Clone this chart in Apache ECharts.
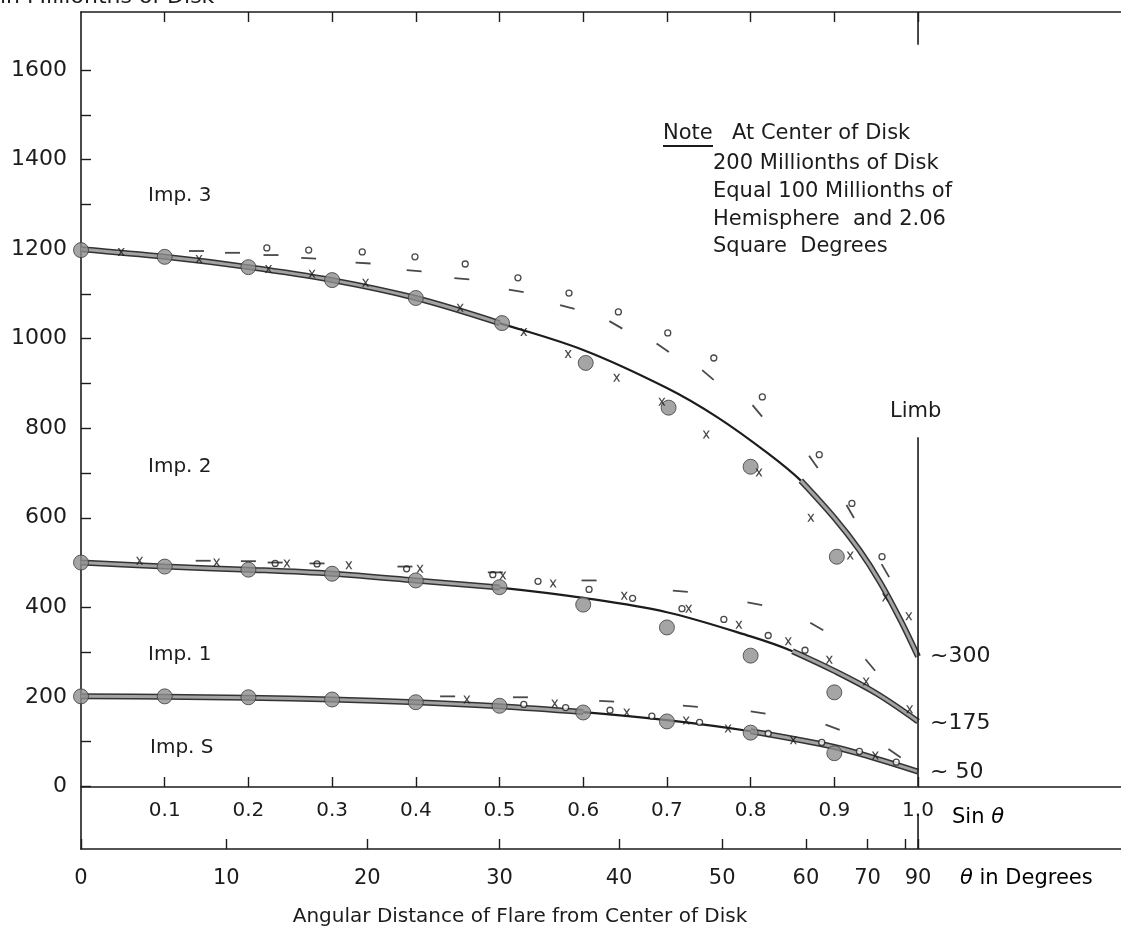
<!DOCTYPE html>
<html>
<head>
<meta charset="utf-8">
<script src="https://cdn.jsdelivr.net/npm/echarts@6/dist/echarts.min.js"></script>
<style>
  html, body { margin: 0; padding: 0; background: #fff; }
  #chart { width: 1121px; height: 928px; }
</style>
</head>
<body>
<div id="chart"></div>
<script>
// tick positions / labels
const sinTicks = [0.1, 0.2, 0.3, 0.4, 0.5, 0.6, 0.7, 0.8, 0.9, 1.0];
const thetaTicks = [0, 10, 20, 30, 40, 50, 60, 70, 80, 90];
const thetaLabels = [0, 10, 20, 30, 40, 50, 60, 70, 90];
const yTicks = [0, 100, 200, 300, 400, 500, 600, 700, 800, 900, 1000, 1100, 1200, 1300, 1400, 1500, 1600];
const yLabels = [0, 200, 400, 600, 800, 1000, 1200, 1400, 1600];

// fitted curves [sin theta, area]
const curveImp3 = [[0, 1200], [0.1, 1183], [0.2, 1160], [0.3, 1131], [0.4, 1091], [0.5, 1035], [0.6, 975], [0.7, 890], [0.76, 825], [0.82, 745], [0.86, 683], [0.9, 600], [0.93, 528], [0.955, 455], [0.98, 368], [1.0, 290]];
const curveImp2 = [[0, 500], [0.1, 491], [0.2, 484], [0.3, 475], [0.4, 460], [0.5, 444], [0.6, 421], [0.7, 389], [0.8, 335], [0.85, 302], [0.9, 258], [0.95, 208], [1.0, 145]];
const curveImpS = [[0, 201], [0.1, 200], [0.2, 198], [0.3, 194], [0.4, 188], [0.5, 179], [0.6, 166], [0.7, 148], [0.8, 123], [0.9, 88], [0.95, 62], [1.0, 33]];

// mean values (big grey dots)
const meanImp3 = [[0, 1198], [0.1, 1183], [0.2, 1160], [0.3, 1131], [0.4, 1091], [0.503, 1035], [0.603, 946], [0.702, 846], [0.8, 714], [0.903, 513]];
const meanImp2 = [[0, 500], [0.1, 491], [0.2, 484], [0.3, 475], [0.4, 460], [0.5, 445], [0.6, 406], [0.7, 355], [0.8, 292], [0.9, 210]];
const meanImpS = [[0, 201], [0.1, 201], [0.2, 199], [0.3, 194], [0.4, 188], [0.5, 180], [0.6, 165], [0.7, 145], [0.8, 120], [0.9, 74]];

// individual sets
const circlePts = [
  [0.222, 1203], [0.272, 1198], [0.336, 1194], [0.399, 1183], [0.459, 1167], [0.522, 1136], [0.583, 1102], [0.642, 1060], [0.701, 1013], [0.756, 957], [0.814, 870], [0.882, 741], [0.921, 632], [0.957, 513],
  [0.232, 498], [0.282, 497], [0.389, 486], [0.492, 473], [0.546, 458], [0.607, 440], [0.659, 420], [0.718, 397], [0.768, 373], [0.821, 337], [0.865, 304],
  [0.529, 183], [0.579, 176], [0.632, 170], [0.682, 157], [0.739, 143], [0.821, 118], [0.885, 98], [0.930, 78], [0.974, 54]
];
const crossPts = [
  [0.048, 1194], [0.141, 1178], [0.224, 1156], [0.276, 1145], [0.340, 1125], [0.453, 1069], [0.529, 1015], [0.582, 966], [0.640, 913], [0.694, 859], [0.747, 786], [0.810, 701], [0.872, 600], [0.919, 516], [0.961, 422], [0.989, 380],
  [0.070, 504], [0.162, 500], [0.246, 498], [0.320, 494], [0.405, 486], [0.504, 471], [0.564, 453], [0.649, 426], [0.726, 397], [0.786, 361], [0.845, 324], [0.894, 283], [0.938, 234], [0.990, 172],
  [0.461, 194], [0.566, 185], [0.652, 165], [0.723, 147], [0.773, 129], [0.851, 103], [0.949, 69]
];
const dashPts = [
  [0.138, 1196], [0.181, 1192], [0.227, 1187], [0.272, 1180], [0.337, 1169], [0.398, 1152], [0.455, 1134], [0.520, 1107], [0.581, 1071], [0.639, 1031], [0.695, 980], [0.749, 919], [0.808, 839], [0.875, 725], [0.919, 614], [0.961, 482],
  [0.146, 504], [0.2, 503], [0.232, 500], [0.282, 498], [0.387, 491], [0.495, 478], [0.607, 460], [0.716, 436], [0.805, 408], [0.879, 357], [0.943, 271],
  [0.438, 201], [0.525, 199], [0.628, 190], [0.728, 179], [0.809, 165], [0.898, 132], [0.972, 74]
];
// tilt of each dash (deg, matching dashPts)
const dashTilt = [0, 0, 0, -3, -3, -5, -5, -10, -15, -30, -35, -40, -50, -55, -60, -60,
  0, 0, 0, 0, 0, 0, 0, -5, -10, -30, -50,
  0, 0, -3, -5, -8, -20, -35];

const limbTop = 780;

const FONT = 'DejaVu Sans';
const INK = '#1c1c1c';
const xMax = 1.2425;
const SMOOTH = 0.35;
const crossPath = 'path://M0,0L2.2,0L5,3.6L7.8,0L10,0L6.2,5L10,10L7.8,10L5,6.4L2.2,10L0,10L3.8,5Z';

let chart = echarts.init(document.getElementById('chart'));

function curveSeries(data) {
  return {
    type: 'line', data: data, smooth: SMOOTH, showSymbol: false,
    lineStyle: { color: INK, width: 2.2 }, z: 2, silent: true
  };
}
// the inked double-stroke parts of the curves: dark edge + grey core
function bandSeries(data) {
  return [
    { type: 'line', data: data, smooth: SMOOTH, showSymbol: false, silent: true,
      lineStyle: { color: '#333', width: 6 }, z: 3 },
    { type: 'line', data: data, smooth: SMOOTH, showSymbol: false, silent: true,
      lineStyle: { color: '#a3a3a3', width: 3 }, z: 3 }
  ];
}
function meanSeries(data) {
  return {
    type: 'scatter', data: data, symbol: 'circle', symbolSize: 15,
    itemStyle: { color: '#8e8e8e', borderColor: '#3c3c3c', borderWidth: 1 }, z: 5
  };
}

const txt = (x, y, text, size, extra) => ({
  type: 'text', x: x, y: y,
  style: Object.assign({ text: text, font: (size || 20) + 'px "' + FONT + '"', fill: INK, verticalAlign: 'middle' }, extra || {})
});

const rich = {
  n: { fontFamily: FONT, fontSize: 21, color: INK },
  t: { fontFamily: FONT, fontSize: 21, fontStyle: 'italic', color: INK }
};

chart.setOption({
  animation: false,
  backgroundColor: '#fff',
  grid: { left: 81, right: 0, top: 12, bottom: 79 },
  xAxis: [
    {
      // sin theta scale, sits on the zero line
      type: 'value', min: 0, max: xMax, position: 'bottom', offset: -62,
      axisLine: { onZero: false, lineStyle: { color: INK, width: 1.6 } },
      axisTick: { inside: true, length: 10, customValues: sinTicks, lineStyle: { color: INK, width: 1.4 } },
      axisLabel: { customValues: sinTicks, formatter: v => v.toFixed(1), margin: 14, color: INK, fontFamily: FONT, fontSize: 20 },
      splitLine: { show: false }
    },
    {
      // theta in degrees
      type: 'value', min: 0, max: xMax, position: 'bottom',
      axisLine: { onZero: false, lineStyle: { color: INK, width: 1.6 } },
      axisTick: { inside: true, length: 10, customValues: thetaTicks.map(d => Math.sin(d * Math.PI / 180)), lineStyle: { color: INK, width: 1.4 } },
      axisLabel: {
        customValues: thetaLabels.map(d => Math.sin(d * Math.PI / 180)),
        formatter: v => String(Math.round(Math.asin(Math.min(1, v)) * 180 / Math.PI)),
        margin: 19, color: INK, fontFamily: FONT, fontSize: 21
      },
      splitLine: { show: false }
    },
    {
      type: 'value', min: 0, max: xMax, position: 'top',
      axisLine: { onZero: false, lineStyle: { color: INK, width: 1.6 } },
      axisTick: { inside: true, length: 10, customValues: sinTicks, lineStyle: { color: INK, width: 1.4 } },
      axisLabel: { show: false },
      splitLine: { show: false }
    }
  ],
  yAxis: {
    type: 'value', min: -140, max: 1730,
    axisLine: { show: true, onZero: false, lineStyle: { color: INK, width: 1.6 } },
    axisTick: { show: true, inside: true, length: 10, customValues: yTicks, lineStyle: { color: INK, width: 1.4 } },
    axisLabel: { customValues: yLabels, formatter: v => String(v), margin: 14, color: INK, fontFamily: FONT, fontSize: 22 },
    splitLine: { show: false }
  },
  series: [
    curveSeries(curveImp3),
    curveSeries(curveImp2),
    curveSeries(curveImpS),
    ...bandSeries(curveImp3.filter(p => p[0] <= 0.5)),
    ...bandSeries(curveImp3.filter(p => p[0] >= 0.86)),
    ...bandSeries(curveImp2.filter(p => p[0] <= 0.5)),
    ...bandSeries(curveImp2.filter(p => p[0] >= 0.85)),
    ...bandSeries(curveImpS.filter(p => p[0] <= 0.6)),
    ...bandSeries(curveImpS.filter(p => p[0] >= 0.8)),
    meanSeries(meanImp3),
    meanSeries(meanImp2),
    meanSeries(meanImpS),
    {
      type: 'scatter', data: circlePts, symbol: 'circle', symbolSize: 6,
      itemStyle: { color: '#fff', borderColor: INK, borderWidth: 1.3 }, z: 6
    },
    {
      type: 'scatter', data: crossPts, symbol: crossPath, symbolSize: [7, 8],
      itemStyle: { color: INK }, z: 6
    },
    {
      type: 'scatter', symbol: 'rect', symbolSize: [15, 1.8],
      data: dashPts.map((p, i) => ({ value: p, symbolRotate: dashTilt[i] })),
      itemStyle: { color: INK }, z: 6
    },
    {
      // limb line, long 90 deg tick and long top tick at sin = 1
      type: 'line', showSymbol: false, silent: true, connectNulls: false,
      data: [[1, 0], [1, limbTop], '-', [1, -140], [1, -62], '-', [1, 1730], [1, 1657]],
      lineStyle: { color: INK, width: 1.6 }, z: 4
    }
  ],
  graphic: [
    txt(0, -3, 'in Millionths of Disk', 22),
    txt(148, 196, 'Imp. 3', 20),
    txt(148, 467, 'Imp. 2', 20),
    txt(148, 655, 'Imp. 1', 20),
    txt(150, 748, 'Imp. S', 20),
    txt(890, 412, 'Limb', 21),
    txt(930, 656, '~300', 22),
    txt(930, 723, '~175', 22),
    txt(930, 772, '~ 50', 22),
    txt(663, 134, 'Note', 21),
    { type: 'line', shape: { x1: 663, y1: 146, x2: 713, y2: 146 }, style: { stroke: INK, lineWidth: 2 } },
    txt(732, 134, 'At Center of Disk', 21),
    txt(713, 164, '200 Millionths of Disk', 21),
    txt(713, 192, 'Equal 100 Millionths of', 21),
    txt(713, 220, 'Hemisphere  and 2.06', 21),
    txt(713, 247, 'Square  Degrees', 21),
    { type: 'text', x: 952, y: 818, style: { text: '{n|Sin }{t|θ}', verticalAlign: 'middle', rich: rich } },
    { type: 'text', x: 960, y: 879, style: { text: '{t|θ}{n| in Degrees}', verticalAlign: 'middle', rich: rich } },
    txt(520, 917, 'Angular Distance of Flare from Center of Disk', 20, { align: 'center' })
  ]
});
</script>
</body>
</html>
